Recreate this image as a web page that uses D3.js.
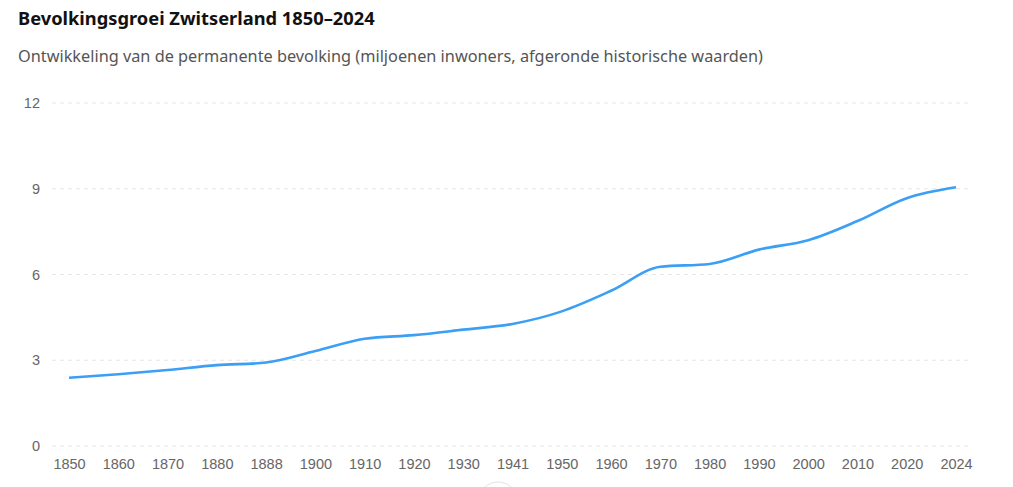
<!DOCTYPE html>
<html lang="nl">
<head>
    <meta charset="UTF-8">
    <title>Bevolkingsgroei Zwitserland</title>
    <script src="https://cdn.jsdelivr.net/npm/d3@7"></script>
    <style>
        body { margin: 0; background: #fff; }
        svg { font-family: "Noto Sans", "Open Sans", sans-serif; }
        .grid line { stroke: #e6e6e6; stroke-dasharray: 4,4; }
        .axis text { fill: #666; font-size: 14.5px; }
    </style>
</head>
<body>
    <script>
        // permanente bevolking, miljoenen
        let years = ["1850", "1860", "1870", "1880", "1888", "1900", "1910", "1920", "1930", "1941",
                     "1950", "1960", "1970", "1980", "1990", "2000", "2010", "2020", "2024"]
        let population = [2.39, 2.51, 2.66, 2.83, 2.92, 3.32, 3.75, 3.88, 4.07, 4.27,
                          4.71, 5.43, 6.27, 6.37, 6.87, 7.20, 7.87, 8.67, 9.05]
        let yTicks = [0, 3, 6, 9, 12]

        let w = 1013, h = 487
        let gridLeft = 52, gridRight = 972

        let svg = d3.select("body").append("svg")
            .attr("width", w)
            .attr("height", h)

        svg.append("text")
            .attr("x", 18).attr("y", 25)
            .attr("font-size", "18.3px")
            .attr("font-weight", "bold")
            .attr("fill", "#111")
            .text("Bevolkingsgroei Zwitserland 1850\u20132024")

        svg.append("text")
            .attr("x", 18).attr("y", 62)
            .attr("font-size", "16.3px")
            .attr("fill", "#555")
            .text("Ontwikkeling van de permanente bevolking (miljoenen inwoners, afgeronde historische waarden)")

        let xScale = d3.scalePoint()
            .domain(years)
            .range([69, 956])

        let yScale = d3.scaleLinear()
            .domain([0, 12])
            .range([446, 103])

        // gridlines
        svg.append("g")
            .attr("class", "grid")
            .selectAll("line")
            .data(yTicks)
            .enter()
            .append("line")
            .attr("x1", gridLeft)
            .attr("x2", gridRight)
            .attr("y1", d => yScale(d))
            .attr("y2", d => yScale(d))

        let yAxis = d3.axisLeft(yScale).tickValues(yTicks).tickSize(0).tickPadding(0)
        let yG = svg.append("g")
            .attr("class", "axis")
            .attr("transform", "translate(40,0)")
            .call(yAxis)
        yG.select(".domain").remove()

        let xAxis = d3.axisBottom(xScale).tickSize(0).tickPadding(13)
        let xG = svg.append("g")
            .attr("class", "axis")
            .attr("transform", "translate(0,446)")
            .call(xAxis)
        xG.select(".domain").remove()

        let line = d3.line()
            .x((d, i) => xScale(years[i]))
            .y(d => yScale(d))
            .curve(d3.curveMonotoneX)

        svg.append("path")
            .datum(population)
            .attr("fill", "none")
            .attr("stroke", "#3a9ff5")
            .attr("stroke-width", 2.6)
            .attr("stroke-linejoin", "round")
            .attr("d", line)

        // faint control peeking in at the bottom edge
        svg.append("circle")
            .attr("cx", 498).attr("cy", 502).attr("r", 20)
            .attr("fill", "#fff")
            .attr("stroke", "#e2e2e2")
    </script>
</body>
</html>
